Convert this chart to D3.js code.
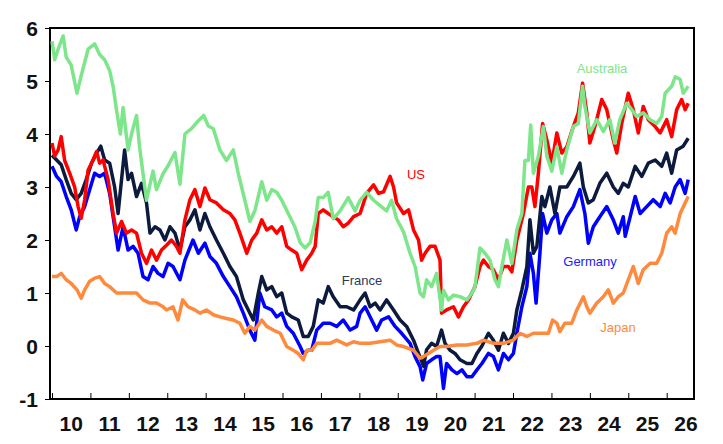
<!DOCTYPE html>
<html>
<head>
<meta charset="utf-8">
<script src="https://cdn.jsdelivr.net/npm/d3@7"></script>
<style>
  body { margin: 0; background: #fff; }
  svg { display: block; font-family: "Liberation Sans", Arial, sans-serif; }
</style>
</head>
<body>
<svg id="chart" width="723" height="444"></svg>
<script>
// 10-year government bond yields, % ([year, value])
var australia = [[2010.0,5.75],[2010.07,5.4],[2010.16,5.6],[2010.29,5.85],[2010.37,5.45],[2010.5,5.3],[2010.65,4.77],[2010.76,5.1],[2010.94,5.6],[2011.11,5.7],[2011.24,5.5],[2011.37,5.4],[2011.5,5.2],[2011.59,4.9],[2011.68,4.45],[2011.78,4.0],[2011.85,4.5],[2011.98,3.7],[2012.07,4.0],[2012.2,4.35],[2012.28,3.75],[2012.46,2.75],[2012.55,3.05],[2012.63,3.3],[2012.72,2.95],[2012.89,3.25],[2013.02,3.4],[2013.2,3.65],[2013.33,3.05],[2013.46,4.0],[2013.63,4.1],[2013.81,4.25],[2013.95,4.35],[2014.07,4.15],[2014.2,4.1],[2014.37,3.7],[2014.54,3.5],[2014.72,3.7],[2014.85,3.25],[2015.02,2.75],[2015.15,2.35],[2015.28,2.55],[2015.46,3.1],[2015.59,2.75],[2015.72,2.95],[2015.85,2.9],[2015.98,2.75],[2016.15,2.5],[2016.32,2.25],[2016.46,1.95],[2016.59,1.85],[2016.72,1.95],[2016.85,2.35],[2016.93,2.8],[2017.06,2.8],[2017.19,2.9],[2017.32,2.4],[2017.5,2.55],[2017.71,2.8],[2017.89,2.55],[2018.02,2.75],[2018.19,2.9],[2018.37,2.75],[2018.54,2.65],[2018.71,2.55],[2018.84,2.75],[2018.97,2.4],[2019.15,2.15],[2019.32,1.75],[2019.45,1.5],[2019.58,1.0],[2019.67,0.93],[2019.75,1.25],[2019.88,1.12],[2020.01,1.37],[2020.14,0.68],[2020.19,1.05],[2020.32,0.87],[2020.45,0.96],[2020.62,0.93],[2020.8,0.87],[2020.93,1.0],[2021.01,1.12],[2021.14,1.85],[2021.27,1.75],[2021.4,1.62],[2021.53,1.25],[2021.62,1.12],[2021.71,1.5],[2021.84,2.0],[2021.97,1.56],[2022.1,2.2],[2022.23,2.5],[2022.31,3.5],[2022.4,3.5],[2022.46,4.17],[2022.53,3.26],[2022.66,3.58],[2022.79,4.14],[2022.88,3.58],[2023.01,3.3],[2023.14,3.76],[2023.27,3.26],[2023.4,3.7],[2023.57,4.14],[2023.7,4.2],[2023.81,4.9],[2023.87,4.52],[2024.0,4.02],[2024.18,4.27],[2024.35,4.05],[2024.52,4.27],[2024.65,3.83],[2024.78,4.27],[2024.96,4.58],[2025.09,4.46],[2025.22,4.33],[2025.39,4.4],[2025.57,4.27],[2025.74,4.2],[2025.87,4.33],[2025.96,4.77],[2026.13,4.9],[2026.22,5.08],[2026.35,5.03],[2026.43,4.77],[2026.56,4.9]];

var us = [[2010.0,3.83],[2010.07,3.58],[2010.16,3.7],[2010.24,3.95],[2010.33,3.5],[2010.46,3.26],[2010.59,3.0],[2010.68,2.63],[2010.76,2.41],[2010.85,2.76],[2010.94,3.32],[2011.07,3.51],[2011.16,3.67],[2011.24,3.45],[2011.33,3.51],[2011.46,3.14],[2011.59,2.5],[2011.68,2.13],[2011.81,2.35],[2011.94,2.13],[2012.07,2.19],[2012.2,2.13],[2012.33,1.75],[2012.46,1.56],[2012.59,1.81],[2012.72,1.62],[2012.85,1.81],[2012.98,1.9],[2013.11,2.0],[2013.24,1.88],[2013.33,1.75],[2013.46,2.38],[2013.59,2.76],[2013.72,2.95],[2013.85,2.63],[2013.98,2.98],[2014.11,2.76],[2014.28,2.7],[2014.46,2.57],[2014.63,2.5],[2014.76,2.38],[2014.89,2.13],[2015.07,1.75],[2015.2,2.0],[2015.33,2.13],[2015.46,2.38],[2015.59,2.19],[2015.72,2.25],[2015.85,2.13],[2015.98,2.25],[2016.11,1.88],[2016.24,1.81],[2016.37,1.75],[2016.5,1.44],[2016.63,1.62],[2016.76,1.75],[2016.85,1.88],[2016.93,2.5],[2017.06,2.57],[2017.19,2.5],[2017.32,2.44],[2017.45,2.38],[2017.58,2.25],[2017.71,2.32],[2017.85,2.44],[2018.02,2.5],[2018.19,2.88],[2018.37,3.04],[2018.5,2.88],[2018.63,2.91],[2018.8,3.2],[2018.89,3.0],[2018.97,2.7],[2019.15,2.5],[2019.28,2.57],[2019.41,2.19],[2019.54,2.0],[2019.62,1.62],[2019.71,1.75],[2019.84,1.88],[2019.97,1.88],[2020.1,1.62],[2020.14,0.62],[2020.27,0.68],[2020.45,0.74],[2020.58,0.55],[2020.71,0.74],[2020.84,0.87],[2021.01,1.12],[2021.14,1.5],[2021.23,1.62],[2021.36,1.5],[2021.49,1.44],[2021.62,1.25],[2021.75,1.5],[2021.88,1.5],[2021.97,1.4],[2022.1,2.0],[2022.27,2.5],[2022.4,3.0],[2022.49,3.0],[2022.57,2.63],[2022.66,3.26],[2022.77,4.2],[2022.88,3.89],[2023.01,3.45],[2023.14,4.02],[2023.27,3.64],[2023.4,3.76],[2023.57,4.14],[2023.7,4.4],[2023.81,4.96],[2023.92,4.4],[2024.0,3.83],[2024.13,4.14],[2024.31,4.65],[2024.44,4.46],[2024.61,3.89],[2024.7,3.64],[2024.83,4.2],[2025.0,4.77],[2025.13,4.46],[2025.26,4.02],[2025.39,4.52],[2025.52,4.27],[2025.7,4.14],[2025.83,4.02],[2026.0,4.27],[2026.13,3.95],[2026.26,4.46],[2026.39,4.65],[2026.48,4.46],[2026.56,4.58]];

var france = [[2010.0,3.6],[2010.12,3.51],[2010.24,3.42],[2010.37,3.14],[2010.5,2.88],[2010.63,2.76],[2010.76,2.88],[2010.89,3.14],[2011.03,3.45],[2011.16,3.64],[2011.27,3.77],[2011.37,3.51],[2011.5,3.45],[2011.63,3.0],[2011.72,2.5],[2011.81,3.14],[2011.89,3.7],[2011.98,3.14],[2012.07,3.26],[2012.2,2.82],[2012.33,3.07],[2012.46,2.7],[2012.55,2.13],[2012.68,2.25],[2012.81,2.19],[2012.94,2.0],[2013.07,2.25],[2013.2,2.13],[2013.33,1.81],[2013.46,2.25],[2013.59,2.38],[2013.72,2.57],[2013.85,2.19],[2013.98,2.5],[2014.11,2.25],[2014.28,2.0],[2014.46,1.75],[2014.63,1.5],[2014.8,1.31],[2014.98,0.87],[2015.11,0.68],[2015.24,0.49],[2015.37,1.0],[2015.46,1.31],[2015.59,1.06],[2015.72,1.12],[2015.85,0.93],[2015.98,1.0],[2016.11,0.62],[2016.24,0.55],[2016.41,0.49],[2016.54,0.18],[2016.67,0.18],[2016.8,0.37],[2016.93,0.87],[2017.06,0.81],[2017.19,1.12],[2017.32,0.93],[2017.5,0.74],[2017.67,0.74],[2017.85,0.68],[2018.02,0.87],[2018.15,1.0],[2018.28,0.74],[2018.41,0.81],[2018.54,0.68],[2018.71,0.87],[2018.89,0.68],[2019.06,0.49],[2019.23,0.37],[2019.41,0.11],[2019.54,-0.14],[2019.67,-0.38],[2019.75,-0.07],[2019.88,0.05],[2020.01,-0.01],[2020.14,0.3],[2020.23,0.05],[2020.36,-0.08],[2020.49,-0.14],[2020.62,-0.26],[2020.8,-0.33],[2020.93,-0.33],[2021.06,-0.14],[2021.19,0.0],[2021.36,0.24],[2021.49,0.11],[2021.62,-0.08],[2021.75,0.24],[2021.88,0.05],[2022.01,0.24],[2022.1,0.68],[2022.23,1.06],[2022.36,1.5],[2022.44,2.38],[2022.53,1.75],[2022.62,1.88],[2022.75,2.82],[2022.83,2.63],[2022.96,3.0],[2023.09,2.5],[2023.22,3.0],[2023.4,3.0],[2023.57,3.2],[2023.74,3.45],[2023.83,3.0],[2023.96,2.7],[2024.09,2.76],[2024.26,3.07],[2024.44,3.26],[2024.61,3.0],[2024.74,2.88],[2024.87,3.07],[2025.0,3.0],[2025.18,3.39],[2025.35,3.2],[2025.52,3.45],[2025.7,3.51],[2025.87,3.39],[2026.0,3.64],[2026.13,3.26],[2026.26,3.7],[2026.43,3.77],[2026.56,3.92]];

var germany = [[2010.0,3.39],[2010.12,3.2],[2010.24,3.1],[2010.37,2.82],[2010.5,2.57],[2010.63,2.19],[2010.72,2.44],[2010.85,2.63],[2010.98,2.95],[2011.11,3.26],[2011.24,3.2],[2011.37,3.26],[2011.5,2.88],[2011.63,2.25],[2011.72,1.81],[2011.85,2.25],[2011.98,1.81],[2012.11,1.88],[2012.24,1.75],[2012.37,1.31],[2012.5,1.25],[2012.63,1.5],[2012.76,1.37],[2012.89,1.31],[2013.02,1.56],[2013.15,1.5],[2013.33,1.25],[2013.46,1.62],[2013.67,2.0],[2013.81,1.75],[2013.98,1.94],[2014.11,1.69],[2014.28,1.56],[2014.46,1.31],[2014.63,1.12],[2014.8,0.93],[2014.98,0.62],[2015.15,0.3],[2015.28,0.11],[2015.41,1.0],[2015.54,0.74],[2015.72,0.68],[2015.85,0.55],[2015.98,0.62],[2016.11,0.37],[2016.28,0.24],[2016.46,-0.01],[2016.54,-0.14],[2016.67,-0.08],[2016.76,-0.08],[2016.89,0.3],[2017.06,0.43],[2017.24,0.43],[2017.41,0.37],[2017.58,0.49],[2017.76,0.3],[2017.93,0.37],[2018.02,0.62],[2018.15,0.74],[2018.32,0.49],[2018.45,0.3],[2018.58,0.49],[2018.76,0.55],[2018.93,0.37],[2019.1,0.24],[2019.32,0.05],[2019.45,-0.2],[2019.58,-0.39],[2019.65,-0.64],[2019.75,-0.33],[2019.88,-0.26],[2020.01,-0.2],[2020.1,-0.2],[2020.19,-0.8],[2020.27,-0.33],[2020.41,-0.45],[2020.54,-0.52],[2020.67,-0.45],[2020.8,-0.58],[2020.93,-0.58],[2021.06,-0.45],[2021.19,-0.33],[2021.36,-0.14],[2021.49,-0.2],[2021.62,-0.45],[2021.75,-0.14],[2021.88,-0.26],[2022.01,-0.14],[2022.1,0.24],[2022.23,0.74],[2022.36,1.12],[2022.44,1.75],[2022.53,1.37],[2022.6,0.81],[2022.7,1.75],[2022.77,2.5],[2022.88,2.13],[2023.01,2.38],[2023.14,2.5],[2023.22,2.13],[2023.4,2.44],[2023.57,2.63],[2023.74,2.95],[2023.87,2.5],[2023.96,1.94],[2024.09,2.25],[2024.26,2.44],[2024.44,2.63],[2024.61,2.38],[2024.74,2.13],[2024.87,2.44],[2024.92,2.07],[2025.05,2.44],[2025.18,2.82],[2025.31,2.5],[2025.48,2.63],[2025.65,2.76],[2025.83,2.63],[2025.96,2.88],[2026.09,2.7],[2026.22,3.0],[2026.35,3.14],[2026.48,2.88],[2026.56,3.14]];

var japan = [[2010.0,1.31],[2010.12,1.31],[2010.24,1.37],[2010.37,1.25],[2010.5,1.18],[2010.65,1.06],[2010.76,0.9],[2010.85,1.06],[2010.98,1.22],[2011.11,1.28],[2011.24,1.31],[2011.37,1.18],[2011.5,1.12],[2011.68,1.0],[2011.85,1.0],[2012.02,1.0],[2012.2,1.0],[2012.37,0.87],[2012.55,0.81],[2012.72,0.81],[2012.89,0.74],[2012.98,0.68],[2013.15,0.74],[2013.28,0.49],[2013.4,0.87],[2013.54,0.74],[2013.72,0.68],[2013.85,0.62],[2014.02,0.68],[2014.2,0.59],[2014.37,0.55],[2014.54,0.52],[2014.72,0.49],[2014.89,0.43],[2015.02,0.24],[2015.15,0.37],[2015.28,0.3],[2015.46,0.49],[2015.59,0.37],[2015.76,0.3],[2015.94,0.24],[2016.11,-0.01],[2016.28,-0.08],[2016.41,-0.14],[2016.54,-0.26],[2016.63,-0.08],[2016.76,-0.08],[2016.89,0.05],[2017.06,0.05],[2017.24,0.05],[2017.41,0.11],[2017.67,0.02],[2017.85,0.08],[2018.02,0.05],[2018.28,0.05],[2018.54,0.08],[2018.8,0.11],[2018.97,0.02],[2019.15,-0.01],[2019.41,-0.08],[2019.58,-0.23],[2019.67,-0.2],[2019.8,-0.14],[2019.93,-0.08],[2020.1,-0.01],[2020.27,-0.01],[2020.54,0.02],[2020.8,0.02],[2021.06,0.05],[2021.23,0.11],[2021.49,0.05],[2021.75,0.05],[2022.01,0.11],[2022.18,0.24],[2022.36,0.18],[2022.53,0.24],[2022.75,0.24],[2022.92,0.24],[2023.03,0.49],[2023.14,0.43],[2023.22,0.27],[2023.35,0.43],[2023.53,0.43],[2023.66,0.68],[2023.83,0.93],[2023.92,0.74],[2024.0,0.62],[2024.18,0.81],[2024.35,0.93],[2024.48,1.06],[2024.61,0.81],[2024.74,0.93],[2024.87,1.0],[2025.0,1.25],[2025.13,1.5],[2025.26,1.18],[2025.39,1.44],[2025.57,1.56],[2025.74,1.56],[2025.87,1.75],[2026.0,2.13],[2026.13,2.25],[2026.22,2.13],[2026.35,2.5],[2026.48,2.7],[2026.56,2.82]];

var yearTicks = d3.range(2010, 2027);
var yTicks = [-1, 0, 1, 2, 3, 4, 5, 6];

var svg = d3.select("#chart");

var x = d3.scaleLinear().domain([2010, 2026]).range([52, 666.7]);
var y = d3.scaleLinear().domain([-1, 6]).range([399, 28]);

// frame, drawn first, same way as the plain test that rendered
svg.append("rect")
    .attr("x", 50).attr("y", 28)
    .attr("width", 644).attr("height", 371)
    .style("fill", "none").style("stroke", "#000").style("stroke-width", "2px");

svg.append("g")
    .attr("transform", "translate(50,0)")
    .call(d3.axisLeft(y).tickValues(yTicks).tickSize(5).tickFormat(""));

svg.append("g")
    .attr("transform", "translate(0,399)")
    .call(d3.axisBottom(x).tickValues(yearTicks).tickSize(-6).tickSizeOuter(0).tickFormat(""));

var line = d3.line()
    .x(function(d) { return x(d[0]); })
    .y(function(d) { return y(d[1]); });

var series = [
  {data: germany, color: "#0000ff"},
  {data: france, color: "#0c1a3e"},
  {data: japan, color: "#ff8a3d"},
  {data: us, color: "#ff0000"},
  {data: australia, color: "#7ee68a"}
];

svg.selectAll(".series").data(series).enter().append("path")
    .attr("class", "series")
    .attr("d", function(d) { return line(d.data); })
    .style("fill", "none")
    .style("stroke", function(d) { return d.color; })
    .style("stroke-width", "3.5px")
    .style("stroke-linejoin", "round");

svg.selectAll(".xlab").data(yearTicks).enter().append("text")
    .attr("class", "xlab")
    .attr("x", function(d) { return x(d + 0.5); })
    .attr("y", 431)
    .attr("text-anchor", "middle")
    .style("font-size", "21px").style("font-weight", "bold").style("fill", "#111")
    .text(function(d) { return String(d).slice(2); });

svg.selectAll(".ylab").data(yTicks).enter().append("text")
    .attr("class", "ylab")
    .attr("x", 38)
    .attr("y", function(d) { return y(d) + 7.5; })
    .attr("text-anchor", "end")
    .style("font-size", "21px").style("font-weight", "bold").style("fill", "#111")
    .text(function(d) { return d; });

var labels = [
  {text: "Australia", x: 602, y: 73, color: "#7ee68a"},
  {text: "US", x: 416, y: 179, color: "#ff0000"},
  {text: "France", x: 362, y: 285, color: "#2b3a5c"},
  {text: "Germany", x: 590, y: 266, color: "#2020ff"},
  {text: "Japan", x: 618, y: 332, color: "#ff8a3d"}
];

svg.selectAll(".lab").data(labels).enter().append("text")
    .attr("class", "lab")
    .attr("x", function(d) { return d.x; })
    .attr("y", function(d) { return d.y; })
    .attr("text-anchor", "middle")
    .style("font-size", "13px")
    .style("fill", function(d) { return d.color; })
    .text(function(d) { return d.text; });
</script>
</body>
</html>
